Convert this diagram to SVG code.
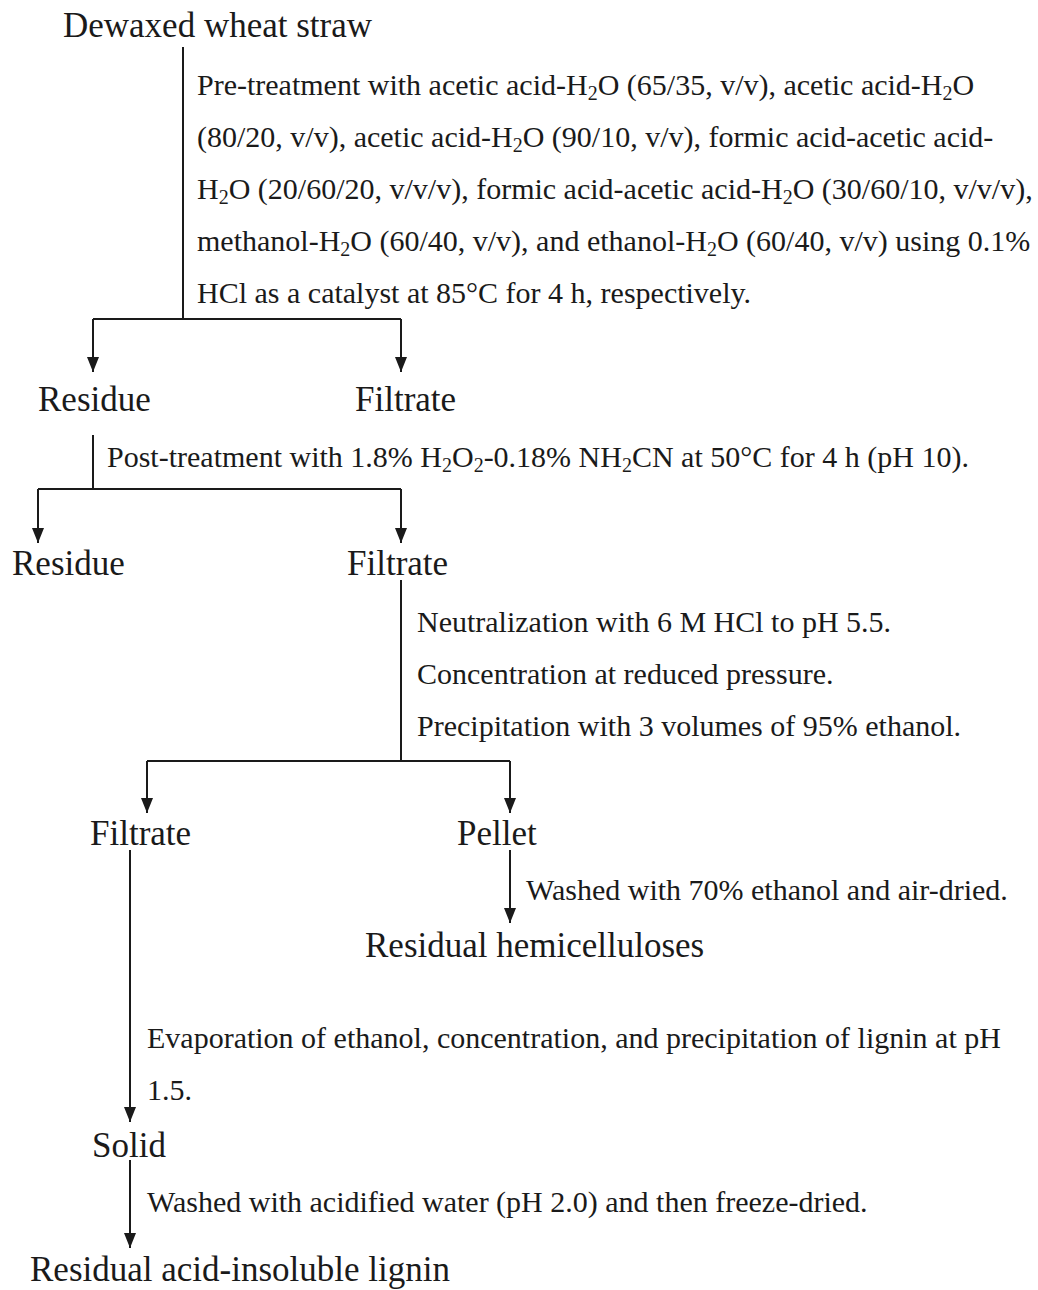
<svg xmlns="http://www.w3.org/2000/svg" width="1038" height="1290" viewBox="0 0 1038 1290">
<style>
text{font-family:"Liberation Serif","Times New Roman",serif;fill:#1a1a1a}
.n{font-size:35px}
.t{font-size:30px}
.s{font-size:20px}
.c{stroke:#1a1a1a;stroke-width:2;fill:none}
.a{marker-end:url(#ah)}
</style>
<defs>
<marker id="ah" viewBox="0 0 15 12" refX="15" refY="6" markerWidth="15" markerHeight="12" markerUnits="userSpaceOnUse" orient="auto">
<path d="M0,0 L15,6 L0,12 z" fill="#1a1a1a"/>
</marker>
</defs>
<rect width="1038" height="1290" fill="#fff"/>
<g id="connectors">
<path class="c" d="M183,47 V319 M93,319 H401"/>
<path class="c a" d="M93,319 V372"/>
<path class="c a" d="M401,319 V372"/>
<path class="c" d="M93,435 V489 M38,489 H401"/>
<path class="c a" d="M38,489 V543"/>
<path class="c a" d="M401,489 V543"/>
<path class="c" d="M401,580 V761 M147,761 H510"/>
<path class="c a" d="M147,761 V813"/>
<path class="c a" d="M510,761 V813"/>
<path class="c a" d="M510,850 V923"/>
<path class="c a" d="M130,850 V1122"/>
<path class="c a" d="M130,1160 V1248"/>
</g>
<g id="labels">
<text class="t" x="197" y="95">Pre-treatment with acetic acid-H<tspan class="s" dy="5">2</tspan><tspan dy="-5">O (65/35, v/v), acetic acid-H</tspan><tspan class="s" dy="5">2</tspan><tspan dy="-5">O</tspan></text>
<text class="t" x="197" y="147">(80/20, v/v), acetic acid-H<tspan class="s" dy="5">2</tspan><tspan dy="-5">O (90/10, v/v), formic acid-acetic acid-</tspan></text>
<text class="t" x="197" y="199">H<tspan class="s" dy="5">2</tspan><tspan dy="-5">O (20/60/20, v/v/v), formic acid-acetic acid-H</tspan><tspan class="s" dy="5">2</tspan><tspan dy="-5">O (30/60/10, v/v/v),</tspan></text>
<text class="t" x="197" y="251">methanol-H<tspan class="s" dy="5">2</tspan><tspan dy="-5">O (60/40, v/v), and ethanol-H</tspan><tspan class="s" dy="5">2</tspan><tspan dy="-5">O (60/40, v/v) using 0.1%</tspan></text>
<text class="t" x="197" y="303">HCl as a catalyst at 85°C for 4 h, respectively.</text>
<text class="t" x="107" y="467">Post-treatment with 1.8% H<tspan class="s" dy="5">2</tspan><tspan dy="-5">O</tspan><tspan class="s" dy="5">2</tspan><tspan dy="-5">-0.18% NH</tspan><tspan class="s" dy="5">2</tspan><tspan dy="-5">CN at 50°C for 4 h (pH 10).</tspan></text>
<text class="t" x="417" y="632">Neutralization with 6 M HCl to pH 5.5.</text>
<text class="t" x="417" y="684">Concentration at reduced pressure.</text>
<text class="t" x="417" y="736">Precipitation with 3 volumes of 95% ethanol.</text>
<text class="t" x="526" y="900">Washed with 70% ethanol and air-dried.</text>
<text class="t" x="147" y="1048">Evaporation of ethanol, concentration, and precipitation of lignin at pH</text>
<text class="t" x="147" y="1100">1.5.</text>
<text class="t" x="147" y="1212">Washed with acidified water (pH 2.0) and then freeze-dried.</text>
</g>
<g id="n-dewaxed"><text class="n" x="63" y="37">Dewaxed wheat straw</text></g>
<g id="n-residue1"><text class="n" x="38" y="411">Residue</text></g>
<g id="n-filtrate1"><text class="n" x="355" y="411">Filtrate</text></g>
<g id="n-residue2"><text class="n" x="12" y="575">Residue</text></g>
<g id="n-filtrate2"><text class="n" x="347" y="575">Filtrate</text></g>
<g id="n-filtrate3"><text class="n" x="90" y="845">Filtrate</text></g>
<g id="n-pellet"><text class="n" x="457" y="845">Pellet</text></g>
<g id="n-hemi"><text class="n" x="365" y="957">Residual hemicelluloses</text></g>
<g id="n-solid"><text class="n" x="92" y="1157">Solid</text></g>
<g id="n-lignin"><text class="n" x="30" y="1281">Residual acid-insoluble lignin</text></g>
</svg>
